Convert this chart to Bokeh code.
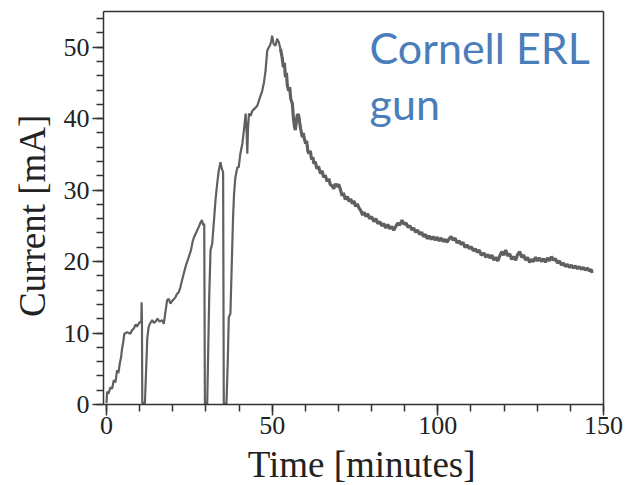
import math
from bokeh.plotting import figure
from bokeh.models import Range1d, SingleIntervalTicker, FixedTicker, Label, LinearAxis
from bokeh.embed import file_html
from bokeh.resources import INLINE

# ---- data ----
# start-up part (three trips to zero)
rise_time = [0, 0.2, 0.6, 1.2, 1.7, 2.2, 2.7, 3.2, 3.6, 4.0, 4.4, 4.7, 5.0, 5.4, 6.2, 7.2, 7.7, 8.2, 8.8, 9.2,
             9.7, 10.2, 10.5, 10.6, 10.7, 10.8, 11.6, 12.3, 12.7, 13.1, 13.8, 14.3, 14.8, 15.4, 16.0, 16.8, 17.3,
             17.8, 18.3, 18.8, 19.3, 19.8, 20.3, 20.8, 21.3, 21.8, 22.3, 22.8, 23.3, 24.0, 24.8, 25.5, 26.0, 26.4,
             26.9, 27.4, 27.9, 28.4, 28.8, 29.2, 29.5, 29.7, 30.4, 31.0, 31.4, 31.9, 32.4, 32.9, 33.4, 33.9, 34.4,
             34.8, 35.2, 35.4, 36.2, 36.6, 36.9, 37.4, 37.8, 38.2, 38.5, 38.9, 39.5, 39.9, 40.4, 41.0, 41.5, 42.0,
             42.3, 42.5, 42.7, 43.0, 43.5, 44.0, 44.7, 45.5, 46.2, 47.0, 47.5, 48.0, 48.5, 49.0, 49.3, 49.7, 50.0,
             50.4, 51.0, 51.5, 52.0, 52.5]
rise_current = [0.2, 1.8, 1.5, 2.4, 2.2, 3.4, 3.1, 4.8, 4.4, 5.7, 6.6, 7.8, 8.6, 9.9, 10.1, 9.9, 10.4, 10.6, 11.2, 10.9,
                11.3, 11.6, 11.5, 14.3, 11.8, 0.2, 0.2, 9.2, 10.8, 11.3, 11.8, 11.4, 11.6, 12.0, 11.6, 11.8, 11.3,
                13.0, 14.6, 14.8, 14.1, 14.5, 14.7, 15.0, 15.5, 15.7, 16.4, 17.4, 18.3, 19.5, 20.6, 21.6, 22.8, 23.4,
                23.9, 24.4, 24.9, 25.5, 25.8, 25.1, 25.3, 0.1, 0.1, 15.0, 21.6, 22.5, 25.5, 28.6, 30.9, 32.8, 33.9,
                33.0, 32.5, 0.1, 0.1, 6.0, 12.2, 12.7, 19.5, 26.2, 29.5, 31.8, 33.2, 33.2, 35.1, 36.5, 38.5, 40.7,
                38.0, 35.1, 38.5, 40.7, 40.4, 41.1, 41.4, 41.8, 42.8, 43.9, 45.0, 46.7, 49.5, 50.0, 50.2, 50.8, 51.6,
                50.5, 50.2, 51.2, 50.7, 49.8]
# decay after the peak
decay_time = [53.0, 53.4, 53.7, 54.0, 54.3, 54.6, 55.0, 55.3, 55.6, 56.1, 56.4, 56.7, 57.0, 57.3, 57.6, 58.0, 58.3,
              58.6, 59.1, 59.4, 59.7, 60.1, 60.4, 60.8, 61.1, 61.5, 61.9, 62.3, 62.6, 63.0, 63.5, 64.0, 64.6, 65.1,
              65.5, 66.0, 66.6, 67.1, 67.5, 68.1, 68.6, 69.1, 69.5, 70.1, 70.6, 71.1, 71.5, 72.1, 72.7, 73.2, 73.7,
              74.2, 74.7, 75.2, 75.7, 76.2, 76.8, 77.3, 77.7, 78.3, 78.8, 79.4, 80.0, 80.7, 81.3, 81.9, 82.5, 83.1,
              83.7, 84.3, 84.9, 85.5, 86.1, 86.7, 87.3, 87.9, 88.5, 89.2, 89.8, 90.4, 91.0, 91.6, 92.2, 92.7, 93.3,
              93.9, 94.5, 95.1, 95.7, 96.3, 96.8, 97.4, 98.0, 98.6, 99.2, 99.8, 100.4, 101.0, 101.6, 102.2, 102.8,
              103.4, 104.0, 104.6, 105.2, 105.8, 106.4, 107.0, 107.6, 108.2, 108.9, 109.5, 110.1, 110.7, 111.3,
              111.9, 112.5, 113.1, 113.9, 114.5, 115.1, 115.7, 116.3, 116.9, 117.5, 118.1, 118.7, 119.3, 119.9,
              120.5, 121.1, 121.7, 122.3, 122.9, 123.5, 124.1, 124.7, 125.3, 125.9, 126.5, 127.1, 127.7, 128.3,
              128.9, 129.5, 130.1, 130.7, 131.3, 131.9, 132.5, 133.1, 133.7, 134.3, 134.9, 135.5, 136.1, 136.7,
              137.3, 137.9, 138.5, 139.1, 139.7, 140.3, 140.9, 141.5, 142.1, 142.7, 143.3, 143.9, 144.5, 145.1,
              145.7, 146.3, 146.6]
decay_current = [48.6, 47.2, 47.8, 45.8, 46.4, 44.6, 43.9, 44.4, 42.8, 42.1, 40.2, 39.0, 38.4, 39.6, 40.6, 40.5, 39.5,
                 38.6, 37.4, 38.0, 37.2, 36.5, 36.9, 35.4, 35.1, 35.5, 34.3, 34.6, 33.7, 34.0, 33.0, 33.3, 32.3, 32.7,
                 31.8, 32.1, 31.2, 31.6, 30.8, 30.6, 30.2, 30.9, 30.5, 30.8, 30.1, 29.2, 29.6, 28.7, 29.1, 28.4, 28.8,
                 28.1, 28.5, 27.7, 28.1, 27.5, 27.1, 26.5, 26.9, 26.3, 26.7, 26.0, 26.3, 25.6, 26.0, 25.3, 25.6, 25.0,
                 25.3, 24.7, 25.2, 24.6, 24.9, 24.4, 24.9, 25.4, 25.1, 25.8, 25.2, 25.4, 24.8, 25.0, 24.4, 24.7, 24.1,
                 24.4, 23.8, 24.1, 23.5, 23.8, 23.2, 23.6, 23.1, 23.5, 23.0, 23.4, 22.9, 23.3, 22.8, 23.1, 22.7,
                 23.2, 23.5, 23.0, 23.3, 22.6, 22.9, 22.4, 22.7, 22.0, 22.3, 21.8, 22.1, 21.5, 21.8,
                 21.3, 21.6, 20.9, 21.2, 20.6, 21.0, 20.5, 20.9, 20.2, 20.6, 20.1, 20.8, 21.4, 20.9,
                 21.6, 20.8, 21.1, 20.3, 20.7, 20.2, 21.0, 21.4, 20.6, 20.9, 20.2, 20.6, 19.9, 20.3,
                 20.0, 20.6, 20.1, 20.5, 20.0, 20.4, 19.9, 20.5, 20.1, 20.7, 20.2, 20.4, 19.8, 20.1,
                 19.5, 19.8, 19.3, 19.6, 19.2, 19.5, 19.1, 19.4, 19.0, 19.3, 18.9, 19.2, 18.8, 19.1,
                 18.7, 18.9, 18.4]

x_title = "Time [minutes]"
y_title = "Current [mA]"
note_lines = ["Cornell ERL", "gun"]

# box of the chart (data units) and the surrounding canvas extent, also in data units
BOX_X = (-0.9, 150)
BOX_Y = (0, 55)
CANVAS_X = (-31.99, 156.34)
CANVAS_Y = (-11.2, 56.54)

p = figure(width=624, height=484, output_backend="svg", toolbar_location=None,
           x_range=Range1d(*CANVAS_X), y_range=Range1d(*CANVAS_Y),
           x_axis_location=None, y_axis_location=None, min_border=0,
           min_border_left=0, min_border_right=0, min_border_top=0, min_border_bottom=0)
p.grid.visible = False
p.background_fill_color = "white"
p.border_fill_color = "white"
p.outline_line_color = None

p.line(rise_time, rise_current, line_color="#606060", line_width=2.2)
p.line(rise_time[-1:] + decay_time, rise_current[-1:] + decay_current, line_color="#606060", line_width=3.2)

xaxis = LinearAxis(ticker=SingleIntervalTicker(interval=50, num_minor_ticks=5),
                   fixed_location=BOX_Y[0], bounds=BOX_X)
yaxis = LinearAxis(ticker=SingleIntervalTicker(interval=10, num_minor_ticks=5),
                   fixed_location=BOX_X[0], bounds=BOX_Y)
for ax in (xaxis, yaxis):
    ax.axis_line_color = "#333333"
    ax.axis_line_width = 1.5
    ax.major_tick_line_color = "#333333"
    ax.minor_tick_line_color = "#333333"
    ax.major_tick_line_width = 1.5
    ax.minor_tick_line_width = 1.5
    ax.major_tick_in = 0
    ax.minor_tick_in = 0
    ax.major_tick_out = 11
    ax.minor_tick_out = 7
    ax.major_label_text_font = "Liberation Serif"
    ax.major_label_text_font_size = "26px"
    ax.major_label_text_color = "#222222"
xaxis.major_label_standoff = 2
yaxis.major_label_standoff = 3
p.add_layout(xaxis, "below")
p.add_layout(yaxis, "left")

# top and right edges of the box
top_edge = LinearAxis(ticker=FixedTicker(ticks=[]), fixed_location=BOX_Y[1], bounds=BOX_X,
                      axis_line_color="#333333", axis_line_width=1.5, major_tick_out=0, minor_tick_out=0)
right_edge = LinearAxis(ticker=FixedTicker(ticks=[]), fixed_location=BOX_X[1], bounds=BOX_Y,
                        axis_line_color="#333333", axis_line_width=1.5, major_tick_out=0, minor_tick_out=0)
p.add_layout(top_edge, "above")
p.add_layout(right_edge, "right")

p.add_layout(Label(x=77, y=-8.45, text=x_title, text_align="center", text_baseline="alphabetic",
                   text_font="Liberation Serif", text_font_size="37px", text_color="#222222"))
p.add_layout(Label(x=-22.4, y=26.4, text=y_title, angle=math.pi / 2, text_align="center",
                   text_baseline="alphabetic", text_font="Liberation Serif", text_font_size="37px",
                   text_color="#222222"))

p.add_layout(Label(x=79.4, y=49.96, text=note_lines[0], text_align="left", text_baseline="alphabetic",
                   text_font="Lato", text_font_size="43px", text_color="#4a7ebb"))
p.add_layout(Label(x=79.4, y=42.12, text=note_lines[1], text_align="left", text_baseline="alphabetic",
                   text_font="Lato", text_font_size="43px", text_color="#4a7ebb"))

open("out.html", "w").write(file_html(p, INLINE))
